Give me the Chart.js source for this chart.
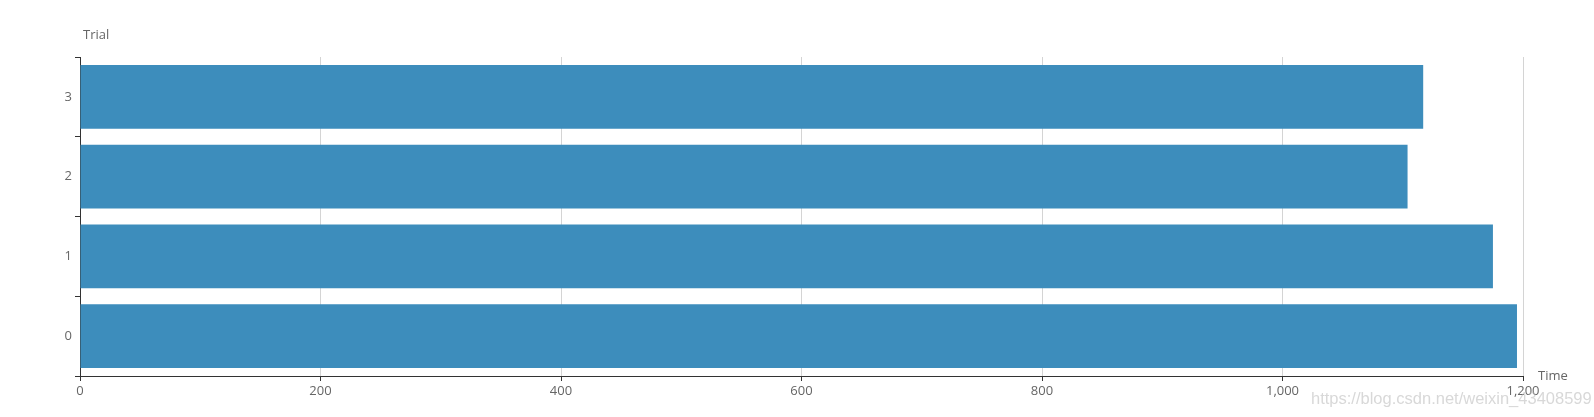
<!DOCTYPE html>
<html>
<head>
<meta charset="utf-8">
<script src="https://cdn.jsdelivr.net/npm/chart.js@4.4.0/dist/chart.umd.min.js"></script>
<style>
    html, body { margin: 0; padding: 0; background: #fff; }
    #wrap { position: relative; width: 1594px; height: 417px; overflow: hidden; }
    #mark {
        position: absolute; left: 1311px; top: 389px;
        font-family: 'Liberation Sans', sans-serif; font-size: 16.5px;
        color: rgba(190, 190, 190, 0.6); white-space: nowrap;
    }
</style>
</head>
<body>
<div id="wrap">
    <canvas id="timeChart" width="1594" height="417"></canvas>
    <div id="mark">https://blog.csdn.net/weixin_43408599</div>
</div>
<script>
const trials = ['0', '1', '2', '3'];
const times = [1195, 1175, 1104, 1117];
const timeTicks = [0, 200, 400, 600, 800, 1000, 1200];

const textColor = '#666';
const axisColor = '#333';

// axis names drawn next to the axes
const axisNames = {
    id: 'axisNames',
    afterDraw(chart) {
        const { ctx, chartArea } = chart;
        ctx.save();
        ctx.fillStyle = textColor;
        ctx.font = "13px 'Open Sans', sans-serif";
        ctx.textBaseline = 'alphabetic';
        ctx.textAlign = 'left';
        ctx.fillText('Trial', chartArea.left + 3, chartArea.top - 18);
        ctx.fillText('Time', chartArea.right + 15, chartArea.bottom + 4);
        ctx.restore();
    }
};

const ctx = document.getElementById('timeChart').getContext('2d');
new Chart(ctx, {
    type: 'bar',
    data: {
        labels: trials,
        datasets: [{
            data: times,
            backgroundColor: '#3d8dbc',
            borderWidth: 0,
            categoryPercentage: 0.8,
            barPercentage: 1
        }]
    },
    plugins: [axisNames],
    options: {
        responsive: false,
        animation: false,
        indexAxis: 'y',
        layout: { padding: { top: 57, right: 71, left: 0, bottom: 0 } },
        plugins: {
            legend: { display: false },
            tooltip: { enabled: false }
        },
        scales: {
            x: {
                min: 0,
                max: 1200,
                afterBuildTicks: (s) => { s.ticks = timeTicks.map(v => ({ value: v })); },
                afterFit: (s) => { s.height = 41; },
                border: { color: axisColor, width: 1 },
                grid: {
                    color: '#d4d4d4',
                    tickColor: axisColor,
                    tickLength: 5
                },
                ticks: {
                    color: textColor,
                    padding: 2,
                    font: { family: "'Open Sans', sans-serif", size: 13 },
                    callback: (v) => v.toLocaleString('en-US')
                }
            },
            y: {
                reverse: true,
                afterFit: (s) => { s.width = 80; },
                border: { color: axisColor, width: 1 },
                grid: {
                    offset: true,
                    drawOnChartArea: false,
                    color: axisColor,
                    tickLength: 5
                },
                ticks: {
                    color: textColor,
                    padding: 3,
                    font: { family: "'Open Sans', sans-serif", size: 13 }
                }
            }
        }
    }
});
</script>
</body>
</html>
